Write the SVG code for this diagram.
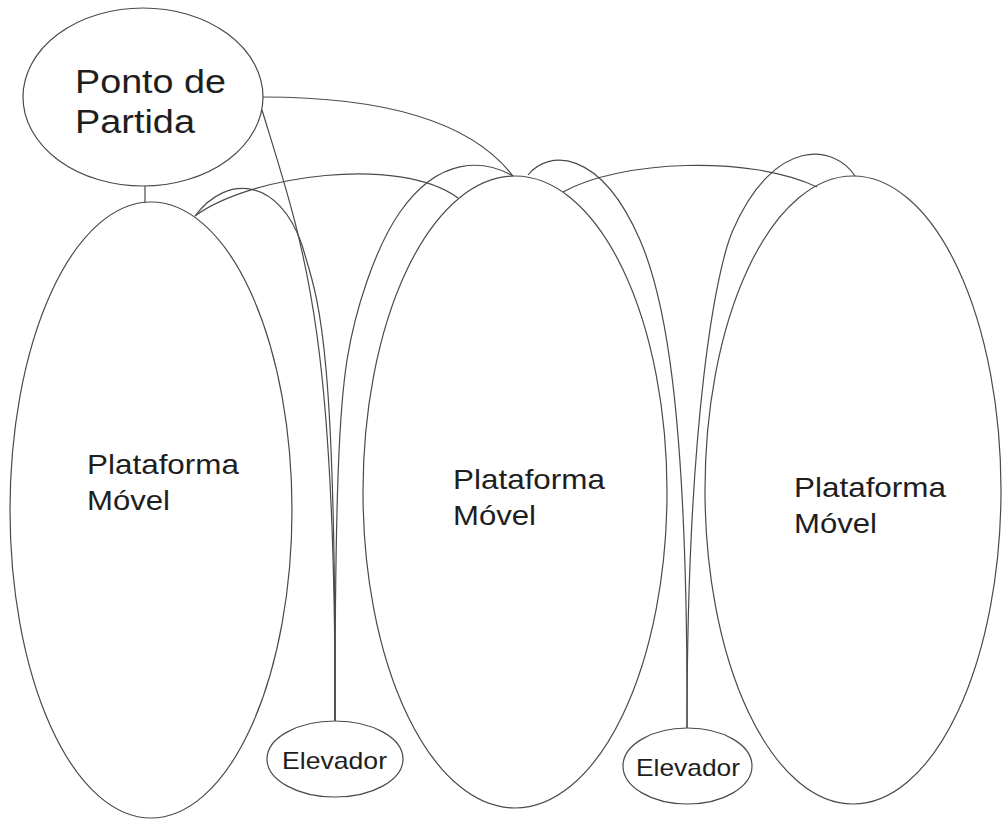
<svg xmlns="http://www.w3.org/2000/svg" width="1002" height="822" viewBox="0 0 1002 822">
<style>
  .node { fill: none; stroke: #4a4a4a; stroke-width: 1.2; }
  .conn { fill: none; stroke: #4a4a4a; stroke-width: 1.2; }
  .lbl { font-family: "Liberation Sans", Arial, sans-serif; fill: #1e1e1e; }
</style>
<rect x="0" y="0" width="1002" height="822" fill="#ffffff"/>
<g id="connectors">
  <line class="conn" x1="145" y1="186" x2="145" y2="203"/>
  <path class="conn" d="M263,97 C380,97 470,120 513,176"/>
  <path class="conn" d="M262,110 C305,250 336,330 335,721"/>
  <path class="conn" d="M195,216 C228,172 280,180 302,245 C318,300 336,330 335,721"/>
  <path class="conn" d="M195,216 C250,175 400,155 458,198"/>
  <path class="conn" d="M513,176 C485,160 440,155 400,212 C375,248 355,310 347,360 C340,405 335,480 335,721"/>
  <path class="conn" d="M528,175 C548,150 600,148 640,240 C663,293 688,400 687,728"/>
  <path class="conn" d="M563,192 C620,160 750,155 817,187"/>
  <path class="conn" d="M855,176 C835,145 775,135 733,230 C716,268 687,420 687,728"/>
</g>
<g id="ponto-de-partida">
  <ellipse class="node" cx="143" cy="97" rx="120" ry="89"/>
  <text class="lbl" x="75" y="93" font-size="34" textLength="151" lengthAdjust="spacingAndGlyphs">Ponto de</text>
  <text class="lbl" x="75" y="133" font-size="34" textLength="120" lengthAdjust="spacingAndGlyphs">Partida</text>
</g>
<g id="plataforma-1">
  <ellipse class="node" cx="151" cy="510" rx="141" ry="308"/>
  <text class="lbl" x="87" y="474" font-size="28" textLength="152" lengthAdjust="spacingAndGlyphs">Plataforma</text>
  <text class="lbl" x="87" y="510" font-size="28" textLength="83" lengthAdjust="spacingAndGlyphs">Móvel</text>
</g>
<g id="plataforma-2">
  <ellipse class="node" cx="515" cy="492" rx="152" ry="316"/>
  <text class="lbl" x="453" y="489" font-size="28" textLength="152" lengthAdjust="spacingAndGlyphs">Plataforma</text>
  <text class="lbl" x="453" y="525" font-size="28" textLength="83" lengthAdjust="spacingAndGlyphs">Móvel</text>
</g>
<g id="plataforma-3">
  <ellipse class="node" cx="853" cy="490" rx="148" ry="314"/>
  <text class="lbl" x="794" y="497" font-size="28" textLength="152" lengthAdjust="spacingAndGlyphs">Plataforma</text>
  <text class="lbl" x="794" y="533" font-size="28" textLength="83" lengthAdjust="spacingAndGlyphs">Móvel</text>
</g>
<g id="elevador-1">
  <ellipse class="node" cx="335" cy="759" rx="68" ry="38"/>
  <text class="lbl" x="282" y="769" font-size="24" textLength="105" lengthAdjust="spacingAndGlyphs">Elevador</text>
</g>
<g id="elevador-2">
  <ellipse class="node" cx="687.5" cy="766" rx="64.5" ry="38"/>
  <text class="lbl" x="636" y="776" font-size="24" textLength="104" lengthAdjust="spacingAndGlyphs">Elevador</text>
</g>
</svg>
